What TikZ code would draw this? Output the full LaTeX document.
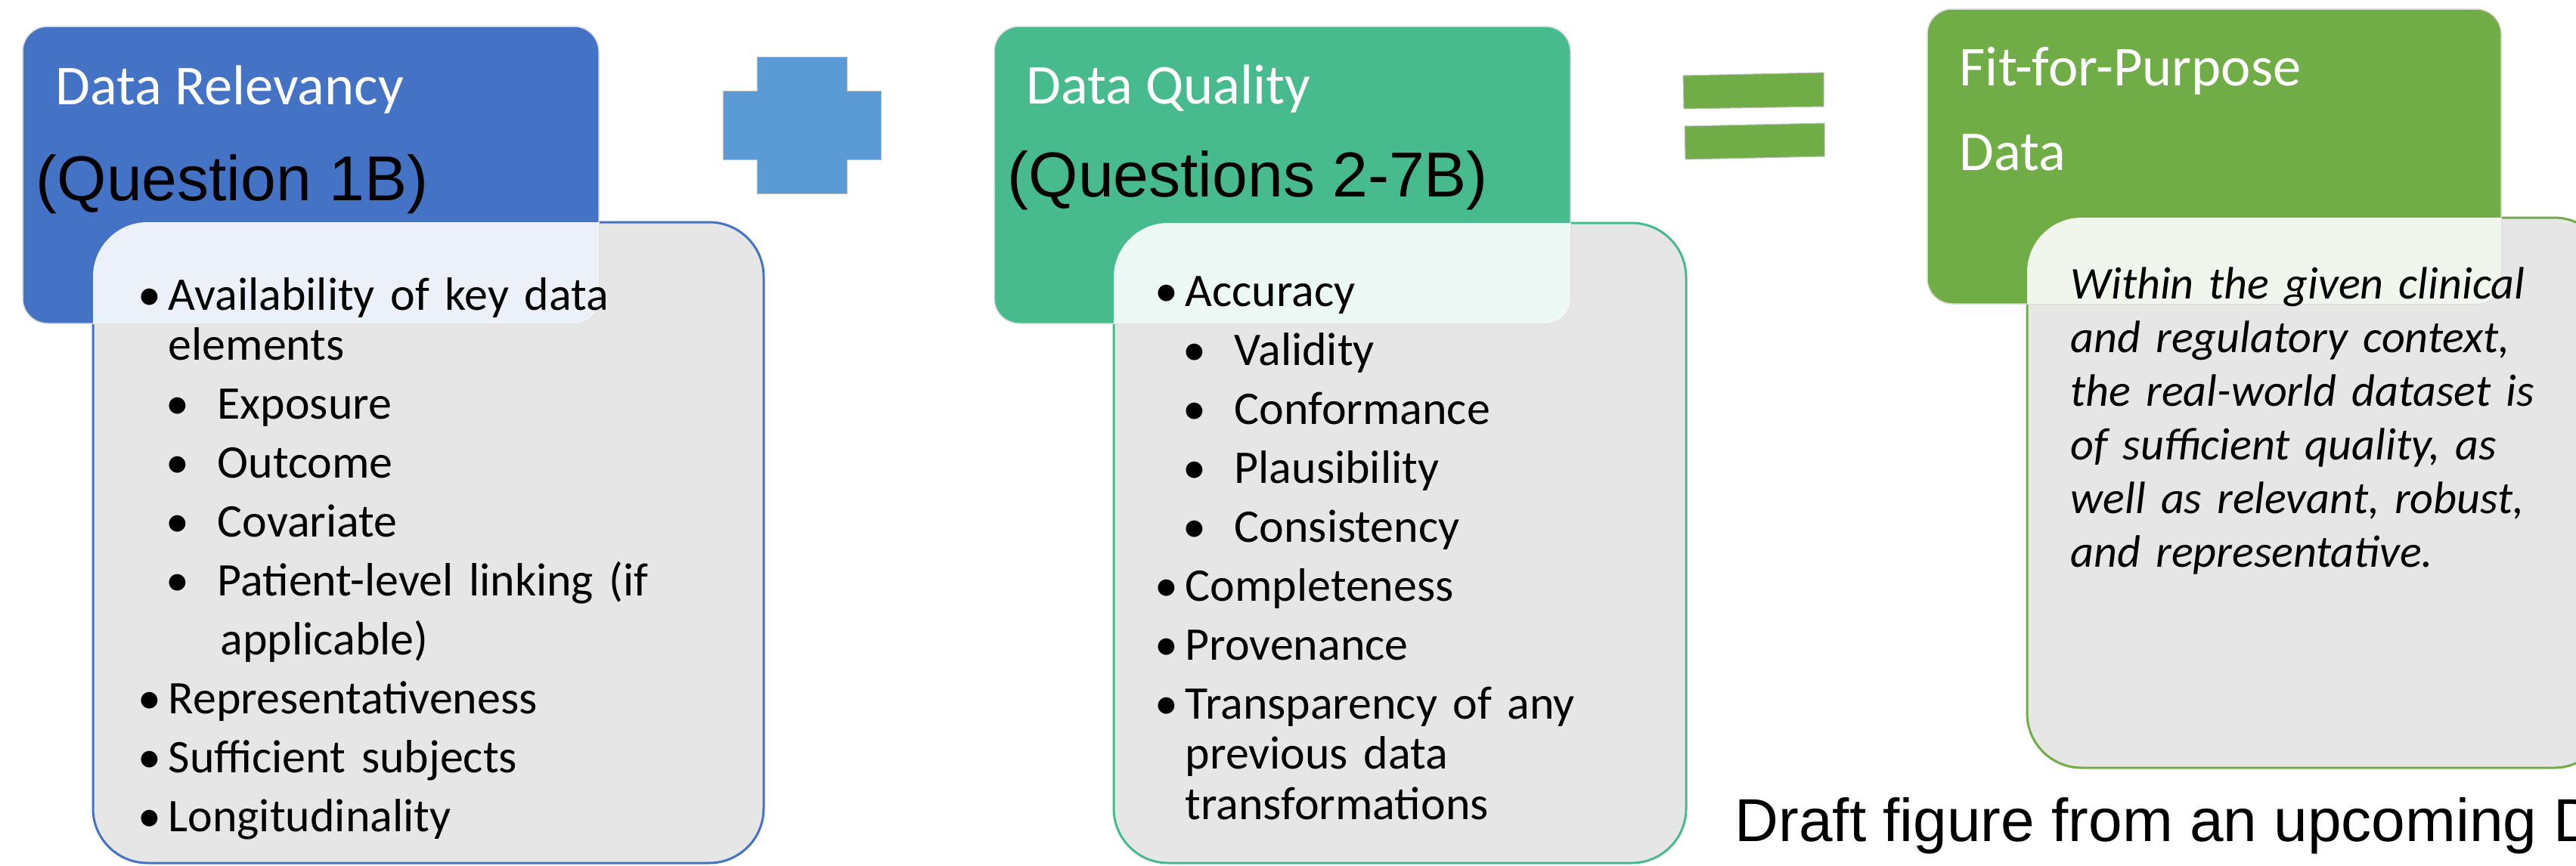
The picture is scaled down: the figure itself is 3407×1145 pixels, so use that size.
\documentclass[tikz,border=0pt]{standalone}
\usepackage{fontspec}
\setmainfont{Carlito}
\newfontfamily\arialfont{Liberation Sans}
\definecolor{relblue}{HTML}{4472C4}
\definecolor{plusblue}{HTML}{5B9BD5}
\definecolor{qualgreen}{HTML}{47BB8E}
\definecolor{fitgreen}{HTML}{70AD47}
\definecolor{boxgray}{HTML}{E7E6E6}
\newcommand\bul{\makebox[0.40cm][l]{•}}
\newcommand\subbul{\hspace*{0.37cm}\makebox[0.68cm][l]{•}}
\begin{document}
\begin{tikzpicture}[x=0.01cm,y=-0.01cm,
  headbox/.style={rounded corners=0.33cm, draw=black!15, line width=0.015cm},
  listbox/.style={rounded corners=0.72cm, fill=boxgray, line width=0.03cm},
  headtext/.style={anchor=base west, inner sep=0pt, text=white, font=\fontsize{21.2}{25}\selectfont},
  qtext/.style={anchor=base west, inner sep=0pt, font=\arialfont\fontsize{23.9}{28}\selectfont},
  listtext/.style={anchor=base west, inner sep=0pt, text width=9cm, align=left, font=\fontsize{17.6}{18.92}\selectfont},
  sign/.style={draw=black!25, line width=0.01cm}]
\useasboundingbox (0,0) rectangle (3407,1145);
\clip (0,0) rectangle (3407,1145);

% Data Relevancy
\draw[listbox, draw=relblue] (123,294) rectangle (1010,1142);
\filldraw[headbox, fill=relblue] (30,35) rectangle (792,428);
\begin{scope}
\clip[rounded corners=0.33cm] (30,35) rectangle (792,428);
\fill[white, opacity=0.9, rounded corners=0.72cm] (123,294) rectangle (1010,1142);
\end{scope}
\node[headtext] (relhead) at (73,138) {Data Relevancy};
\node[qtext] (relq) at (47,265) {(Question 1B)};
\node[listtext] (rellist) at (182,410) {\bul Availability of key data\\
\hspace*{0.40cm}elements\\[3.27pt]
\subbul Exposure\\[3.27pt]
\subbul Outcome\\[3.27pt]
\subbul Covariate\\[3.27pt]
\subbul Patient-level linking (if\\[3.27pt]
\hspace*{1.09cm}applicable)\\[3.27pt]
\bul Representativeness\\[3.27pt]
\bul Sufficient subjects\\[3.27pt]
\bul Longitudinality};

% plus
\filldraw[sign, fill=plusblue] (1001,75) -- (1120,75) -- (1120,120) -- (1165,120) -- (1165,211) -- (1120,211) -- (1120,256) -- (1001,256) -- (1001,211) -- (956,211) -- (956,120) -- (1001,120) -- cycle;

% Data Quality
\draw[listbox, draw=qualgreen] (1473,295) rectangle (2230,1142);
\filldraw[headbox, fill=qualgreen] (1315,35) rectangle (2077,428);
\begin{scope}
\clip[rounded corners=0.33cm] (1315,35) rectangle (2077,428);
\fill[white, opacity=0.9, rounded corners=0.72cm] (1473,295) rectangle (2230,1142);
\end{scope}
\node[headtext] (qualhead) at (1357,137) {Data Quality};
\node[qtext] (qualq) at (1332,260) {(Questions 2-7B)};
\node[listtext] (quallist) at (1527,405) {\bul Accuracy\\[3.27pt]
\subbul Validity\\[3.27pt]
\subbul Conformance\\[3.27pt]
\subbul Plausibility\\[3.27pt]
\subbul Consistency\\[3.27pt]
\bul Completeness\\[3.27pt]
\bul Provenance\\[3.27pt]
\bul Transparency of any\\
\hspace*{0.40cm}previous data\\
\hspace*{0.40cm}transformations};

% equals
\filldraw[sign, fill=fitgreen] (2226,100) -- (2412,96) -- (2412,141) -- (2227,144) -- cycle;
\filldraw[sign, fill=fitgreen] (2228,167) -- (2413,163) -- (2413,207) -- (2229,211) -- cycle;

% Fit-for-Purpose
\draw[listbox, draw=fitgreen] (2681,288) rectangle (3450,1016);
\filldraw[headbox, fill=fitgreen] (2549,12) rectangle (3308,402);
\begin{scope}
\clip[rounded corners=0.33cm] (2549,12) rectangle (3308,402);
\fill[white, opacity=0.9, rounded corners=0.72cm] (2681,288) rectangle (3450,1016);
\end{scope}
\node[headtext] (fithead) at (2591,113) {Fit-for-Purpose};
\node[headtext] (fitdata) at (2591,225) {Data};
\node[listtext, font=\itshape\fontsize{17.1}{20.2}\selectfont] (fittext) at (2738,395) {Within the given clinical\\
and regulatory context,\\
the real-world dataset is\\
of sufficient quality, as\\
well as relevant, robust,\\
and representative.};

\node[anchor=base west, inner sep=0pt, font=\arialfont\fontsize{22.8}{27}\selectfont] (draft) at (2294,1113) {Draft figure from an upcoming D};
\end{tikzpicture}
\end{document}
